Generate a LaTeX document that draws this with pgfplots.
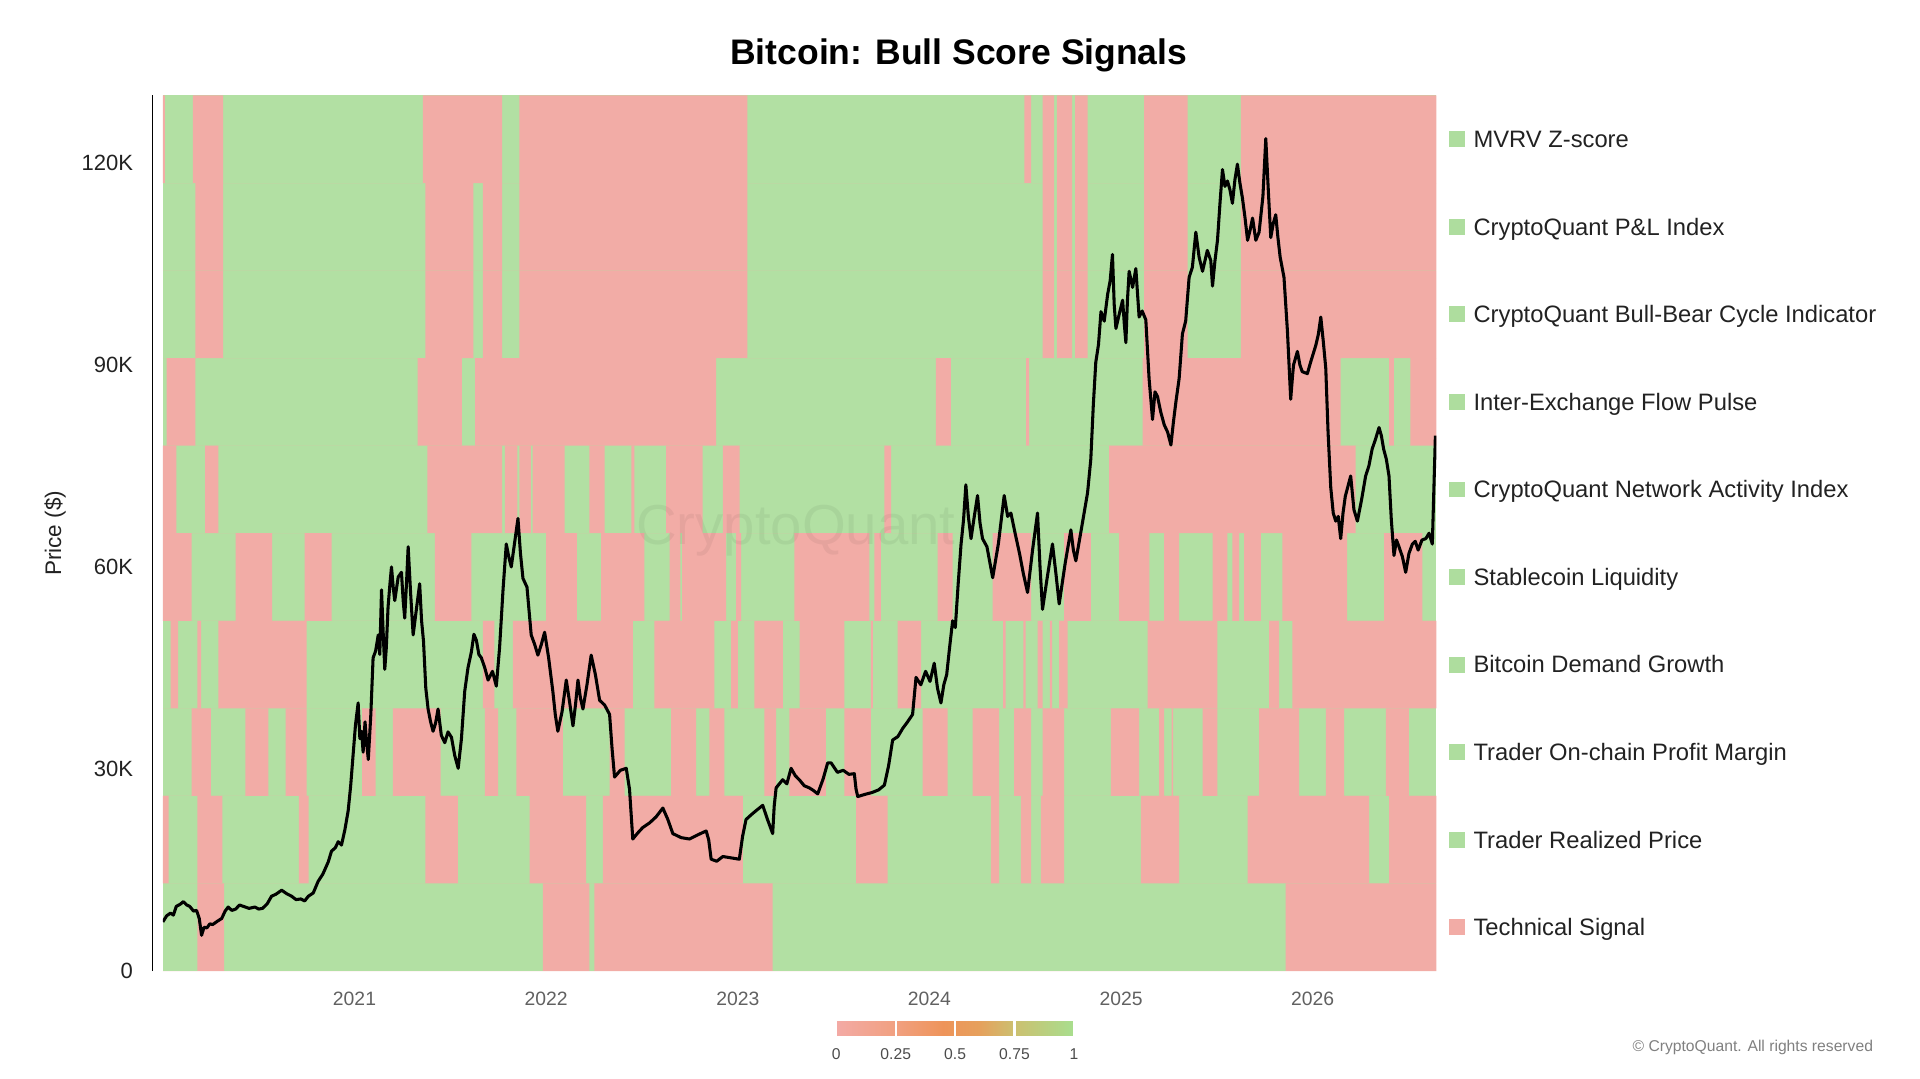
\documentclass[border=0pt]{standalone}
\usepackage{pgfplots}
\pgfplotsset{compat=1.18}
\usepackage{fontspec}
\setmainfont{Liberation Sans}
\definecolor{bred}{RGB}{242,172,166}
\definecolor{bgreen}{RGB}{178,224,163}
\definecolor{lgreen}{RGB}{174,221,158}
\definecolor{txt}{RGB}{34,34,34}
\begin{document}
\begin{tikzpicture}
\path[use as bounding box] (-66.5pt,-44pt) rectangle (717.5pt,396.5pt);
\begin{axis}[
  name=main, at={(0pt,0pt)}, anchor=south west,
  scale only axis, width=520pt, height=357.5pt,
  xmin=2020, xmax=2026.645, ymin=0, ymax=130,
  axis background/.style={fill=bgreen},
  axis line style={draw=none},
  major tick length=0pt,
  xtick={2021,2022,2023,2024,2025,2026},
  xticklabels={2021,2022,2023,2024,2025,2026},
  ytick={0,30,60,90,120},
  yticklabels={0,30K,60K,90K,120K},
  xticklabel style={font=\fontsize{7.9}{9}\selectfont, text=black!62, anchor=center, inner sep=0pt, yshift=-11.5pt},
  yticklabel style={font=\fontsize{9}{10}\selectfont, text=txt, anchor=east, inner sep=0pt, xshift=-12pt},
  colormap={bsc}{rgb255(0pt)=(243,170,165); rgb255(25pt)=(241,160,128); rgb255(45pt)=(238,148,90); rgb255(60pt)=(230,160,92); rgb255(75pt)=(204,192,112); rgb255(100pt)=(168,222,142)},
  point meta min=0, point meta max=1,
  colorbar horizontal,
  colorbar style={
    at={(parent axis.south west)}, anchor=north west,
    xshift=275pt, yshift=-12pt,
    scale only axis, width=97pt, height=6pt,
    xtick={0,0.25,0.5,0.75,1},
    xticklabels={0,0.25,0.5,0.75,1},
    xticklabel pos=lower,
    major tick length=0pt,
    axis line style={draw=none},
    xmajorgrids, major grid style={white, line width=0.9pt},
    xticklabel style={font=\fontsize{6.4}{7}\selectfont, text=black!70, anchor=north, inner sep=0pt, yshift=-5pt},
  },
]
% Row 1 MVRV Z-score
\addplot[const plot, fill=bred, draw=none] coordinates {(2020,117) (2020,130) (2020.01,117) (2020.156,130) (2020.315,117) (2021.357,130) (2021.77,117) (2021.86,130) (2023.05,117) (2024.495,130) (2024.53,117) (2024.59,130) (2024.65,117) (2024.665,130) (2024.745,117) (2024.76,130) (2024.825,117) (2025.12,130) (2025.347,117) (2025.625,130) (2026.645,130) (2026.645,117)} -- cycle;
% Row 2 P&L Index
\addplot[const plot, fill=bred, draw=none] coordinates {(2020,104) (2020.17,117) (2020.315,104) (2021.37,117) (2021.62,104) (2021.67,117) (2021.77,104) (2021.86,117) (2023.05,104) (2024.59,117) (2024.65,104) (2024.665,117) (2024.745,104) (2024.76,117) (2024.825,104) (2025.12,117) (2025.347,104) (2025.625,117) (2026.645,117) (2026.645,104)} -- cycle;
% Row 3 Bull-Bear Cycle
\addplot[const plot, fill=bred, draw=none] coordinates {(2020,91) (2020.17,104) (2020.315,91) (2021.37,104) (2021.62,91) (2021.67,104) (2021.77,91) (2021.86,104) (2023.05,91) (2024.59,104) (2024.65,91) (2024.665,104) (2024.745,91) (2024.76,104) (2024.825,91) (2025.12,104) (2025.347,91) (2025.625,104) (2026.645,104) (2026.645,91)} -- cycle;
% Row 4 Inter-Exchange Flow Pulse
\addplot[const plot, fill=bred, draw=none] coordinates {(2020,78) (2020.02,91) (2020.17,78) (2021.33,91) (2021.56,78) (2021.63,91) (2022.887,78) (2024.034,91) (2024.112,78) (2024.505,91) (2024.52,78) (2025.112,91) (2026.146,78) (2026.398,91) (2026.424,78) (2026.51,91) (2026.645,91) (2026.645,78)} -- cycle;
% Row 5 Network Activity
\addplot[const plot, fill=bred, draw=none] coordinates {(2020,65) (2020,78) (2020.07,65) (2020.22,78) (2020.29,65) (2021.38,78) (2021.77,65) (2021.785,78) (2021.85,65) (2021.86,78) (2021.92,65) (2021.93,78) (2022.096,65) (2022.226,78) (2022.305,65) (2022.445,78) (2022.46,65) (2022.626,78) (2022.817,65) (2022.922,78) (2023.009,65) (2023.765,78) (2023.8,65) (2024.938,78) (2026.224,65) (2026.645,65)} -- cycle;
% Row 6 Stablecoin Liquidity
\addplot[const plot, fill=bred, draw=none] coordinates {(2020,52) (2020,65) (2020.15,52) (2020.38,65) (2020.57,52) (2020.74,65) (2020.88,52) (2021.42,65) (2021.61,52) (2022.0,65) (2022.16,52) (2022.287,65) (2022.513,52) (2022.644,65) (2022.70,52) (2022.71,65) (2022.939,52) (2022.991,65) (2023.017,52) (2023.295,65) (2023.686,52) (2023.713,65) (2023.747,52) (2024.043,65) (2024.121,52) (2024.33,65) (2024.53,52) (2024.703,65) (2024.842,52) (2024.99,65) (2025.147,52) (2025.225,65) (2025.303,52) (2025.477,65) (2025.555,52) (2025.581,65) (2025.616,52) (2025.642,65) (2025.729,52) (2025.842,65) (2026.18,52) (2026.372,65) (2026.572,52) (2026.645,52)} -- cycle;
% Row 7 Bitcoin Demand Growth
\addplot[const plot, fill=bred, draw=none] coordinates {(2020,39) (2020.04,52) (2020.08,39) (2020.18,52) (2020.2,39) (2020.29,52) (2020.75,39) (2021.67,52) (2021.73,39) (2021.827,52) (2022.452,39) (2022.565,52) (2022.878,39) (2022.965,52) (2023.0,39) (2023.087,52) (2023.235,39) (2023.322,52) (2023.556,39) (2023.695,52) (2023.705,39) (2023.834,52) (2023.956,39) (2024.385,52) (2024.398,39) (2024.49,52) (2024.502,39) (2024.564,52) (2024.59,39) (2024.628,52) (2024.64,39) (2024.677,52) (2024.721,39) (2025.138,52) (2025.503,39) (2025.772,52) (2025.825,39) (2025.894,52) (2026.645,52) (2026.645,39)} -- cycle;
% Row 8 Trader On-chain Profit Margin
\addplot[const plot, fill=bred, draw=none] coordinates {(2020,26) (2020.15,39) (2020.25,26) (2020.43,39) (2020.55,26) (2020.64,39) (2020.75,26) (2021.04,39) (2021.11,26) (2021.2,39) (2021.45,26) (2021.68,39) (2021.75,26) (2021.844,39) (2022.087,26) (2022.331,39) (2022.409,26) (2022.652,39) (2022.783,26) (2022.852,39) (2022.93,26) (2023.139,39) (2023.2,26) (2023.269,39) (2023.46,26) (2023.556,39) (2023.695,26) (2023.965,39) (2024.095,26) (2024.225,39) (2024.364,26) (2024.442,39) (2024.53,26) (2024.59,39) (2024.703,26) (2024.947,39) (2025.094,26) (2025.199,39) (2025.225,26) (2025.264,39) (2025.272,26) (2025.425,39) (2025.503,26) (2025.72,39) (2025.929,26) (2026.068,39) (2026.164,26) (2026.381,39) (2026.502,26) (2026.645,26)} -- cycle;
% Row 9 Trader Realized Price
\addplot[const plot, fill=bred, draw=none] coordinates {(2020,13) (2020,26) (2020.03,13) (2020.18,26) (2020.31,13) (2020.71,26) (2020.76,13) (2021.37,26) (2021.54,13) (2021.914,26) (2022.209,13) (2022.296,26) (2023.026,13) (2023.617,26) (2023.782,13) (2024.321,26) (2024.364,13) (2024.477,26) (2024.53,13) (2024.582,26) (2024.703,13) (2025.103,26) (2025.303,13) (2025.66,26) (2026.294,13) (2026.398,26) (2026.645,26) (2026.645,13)} -- cycle;
% Row 10 Technical Signal
\addplot[const plot, fill=bred, draw=none] coordinates {(2020,0) (2020.18,13) (2020.32,0) (2021.983,13) (2022.226,0) (2022.252,13) (2023.182,0) (2025.859,13) (2026.645,13) (2026.645,0)} -- cycle;
% Bitcoin price (K USD)
\addplot[black, line width=1.25pt, line join=round] coordinates {
(2020.000,7.3) (2020.02,8.2) (2020.04,8.6) (2020.055,8.3) (2020.07,9.6) (2020.09,9.9) (2020.107,10.3) (2020.125,9.8) (2020.14,9.6) (2020.16,8.9) (2020.176,9.0) (2020.19,7.8) (2020.202,5.3) (2020.215,6.5) (2020.23,6.4) (2020.245,7.0) (2020.26,6.9) (2020.285,7.4) (2020.307,7.8) (2020.325,8.9) (2020.341,9.5) (2020.36,9.0) (2020.38,9.2) (2020.40,9.8) (2020.42,9.6) (2020.45,9.3) (2020.48,9.5) (2020.50,9.2) (2020.52,9.3) (2020.545,10.0) (2020.567,11.1) (2020.59,11.4) (2020.62,12.0) (2020.645,11.5) (2020.672,11.1) (2020.695,10.6) (2020.72,10.7) (2020.74,10.4) (2020.759,11.1) (2020.785,11.6) (2020.81,13.3) (2020.835,14.4) (2020.863,16.2) (2020.88,17.8) (2020.90,18.3) (2020.915,19.2) (2020.932,18.7) (2020.95,21.0) (2020.967,23.8) (2020.98,27.5) (2020.993,32.2)
(2021.005,36.5) (2021.019,39.8) (2021.028,34.5) (2021.037,35.6) (2021.045,32.5) (2021.055,37.0) (2021.063,34.0) (2021.072,31.4) (2021.085,38.0) (2021.097,46.5) (2021.11,47.5) (2021.124,49.9) (2021.132,47.0) (2021.141,56.6) (2021.15,50.0) (2021.158,44.8) (2021.166,48.0) (2021.175,54.0) (2021.185,57.5) (2021.193,60.0) (2021.202,57.0) (2021.21,55.0) (2021.228,58.5) (2021.245,59.2) (2021.254,55.0) (2021.262,52.4) (2021.272,58.0) (2021.28,63.0) (2021.293,56.0) (2021.306,49.9) (2021.322,53.5) (2021.34,57.5) (2021.35,52.0) (2021.36,49.0) (2021.372,42.0) (2021.384,38.9) (2021.397,37.0) (2021.41,35.6) (2021.423,36.8) (2021.436,38.9) (2021.453,35.0) (2021.471,33.9) (2021.488,35.5) (2021.506,34.7) (2021.523,32.0) (2021.541,30.1) (2021.558,34.5) (2021.575,41.5) (2021.592,45.0) (2021.61,47.4) (2021.623,50.0) (2021.636,49.1) (2021.649,47.0) (2021.662,46.5) (2021.68,45.0) (2021.697,43.2) (2021.72,44.5) (2021.74,42.3) (2021.757,48.0) (2021.775,56.6) (2021.792,63.4) (2021.805,61.5) (2021.818,60.0) (2021.835,63.5) (2021.853,67.2) (2021.866,62.0) (2021.879,58.3) (2021.9,57.0) (2021.922,49.9) (2021.94,48.5) (2021.957,46.9) (2021.975,48.5) (2021.992,50.3)
(2022.013,46.5) (2022.035,41.5) (2022.048,38.0) (2022.061,35.6) (2022.083,38.5) (2022.105,43.2) (2022.122,40.0) (2022.14,36.4) (2022.153,39.5) (2022.166,43.2) (2022.179,40.5) (2022.192,38.9) (2022.213,42.5) (2022.235,46.9) (2022.257,44.0) (2022.279,40.2) (2022.305,39.5) (2022.331,38.1) (2022.344,33.0) (2022.357,28.8) (2022.387,29.8) (2022.418,30.1) (2022.435,27.0) (2022.452,19.6) (2022.478,20.5) (2022.504,21.3) (2022.54,22.0) (2022.574,22.9) (2022.609,24.2) (2022.635,22.5) (2022.661,20.4) (2022.705,19.8) (2022.748,19.6) (2022.79,20.2) (2022.835,20.8) (2022.848,19.5) (2022.861,16.6) (2022.89,16.3) (2022.922,17.0) (2022.965,16.8)
(2023.008,16.6) (2023.025,20.0) (2023.043,22.5) (2023.07,23.2) (2023.095,23.8) (2023.13,24.6) (2023.155,22.5) (2023.182,20.4) (2023.19,24.5) (2023.2,27.2) (2023.234,28.4) (2023.256,27.8) (2023.278,30.1) (2023.3,29.0) (2023.321,28.4) (2023.347,27.5) (2023.373,27.2) (2023.395,26.8) (2023.417,26.3) (2023.445,28.5) (2023.469,30.9) (2023.487,30.9) (2023.52,29.5) (2023.55,29.8) (2023.58,29.2) (2023.608,29.3) (2023.617,27.0) (2023.626,25.9) (2023.66,26.2) (2023.70,26.5) (2023.735,26.9) (2023.765,27.6) (2023.787,30.5) (2023.808,34.3) (2023.835,34.8) (2023.86,36.0) (2023.886,37.0) (2023.912,38.1) (2023.93,43.6) (2023.955,42.5) (2023.98,44.5)
(2024.003,43.0) (2024.025,45.7) (2024.042,42.0) (2024.06,39.8) (2024.075,42.5) (2024.09,44.0) (2024.105,48.0) (2024.121,52.0) (2024.135,51.0) (2024.15,57.5) (2024.165,63.4) (2024.178,67.0) (2024.19,72.2) (2024.203,67.5) (2024.217,64.2) (2024.234,67.5) (2024.251,70.6) (2024.264,66.5) (2024.277,64.2) (2024.3,63.0) (2024.33,58.4) (2024.36,63.5) (2024.39,70.6) (2024.408,67.5) (2024.425,68.0) (2024.447,65.0) (2024.47,62.0) (2024.49,59.0) (2024.512,56.2) (2024.538,62.5) (2024.564,68.0) (2024.577,60.0) (2024.59,53.7) (2024.615,58.5) (2024.642,63.4) (2024.66,59.0) (2024.677,54.5) (2024.708,60.5) (2024.738,65.5) (2024.751,62.5) (2024.764,60.9) (2024.795,66.0) (2024.825,71.0) (2024.842,76.0) (2024.855,84.0) (2024.868,90.4) (2024.882,93.0) (2024.895,97.9) (2024.912,96.5) (2024.93,100.5) (2024.943,102.5) (2024.955,106.4) (2024.964,99.0) (2024.973,95.4) (2024.99,97.5)
(2025.008,99.6) (2025.017,96.0) (2025.025,93.3) (2025.033,99.5) (2025.042,103.9) (2025.06,101.5) (2025.077,104.3) (2025.086,100.5) (2025.094,97.1) (2025.11,98.0) (2025.129,96.7) (2025.146,88.0) (2025.164,81.9) (2025.177,86.0) (2025.19,85.3) (2025.207,83.0) (2025.225,81.1) (2025.243,80.0) (2025.26,78.1) (2025.273,81.5) (2025.286,84.5) (2025.303,88.0) (2025.32,94.6) (2025.337,96.5) (2025.355,103.0) (2025.372,104.5) (2025.39,109.7) (2025.407,106.0) (2025.425,103.9) (2025.45,107.0) (2025.468,105.5) (2025.477,101.7) (2025.49,105.5) (2025.503,108.5) (2025.516,114.0) (2025.529,119.0) (2025.542,116.5) (2025.555,117.3) (2025.568,116.0) (2025.581,114.0) (2025.594,117.5) (2025.607,119.8) (2025.62,117.0) (2025.633,114.8) (2025.646,112.0) (2025.66,108.5) (2025.673,110.0) (2025.686,111.8) (2025.703,108.5) (2025.72,109.7) (2025.74,115.0) (2025.755,123.6) (2025.768,116.0) (2025.781,108.9) (2025.794,111.0) (2025.807,112.3) (2025.818,109.0) (2025.83,106.0) (2025.85,103.0) (2025.868,95.0) (2025.885,84.9) (2025.895,88.5) (2025.90,90.0) (2025.92,92.0) (2025.933,90.0) (2025.945,89.0) (2025.972,88.7) (2025.99,90.5)
(2026.016,92.9) (2026.029,94.5) (2026.042,97.1) (2026.055,93.5) (2026.068,89.5) (2026.08,80.0) (2026.094,71.8) (2026.107,68.0) (2026.12,66.8) (2026.133,67.5) (2026.146,64.2) (2026.158,68.0) (2026.17,70.5) (2026.184,72.0) (2026.198,73.5) (2026.215,68.5) (2026.233,66.8) (2026.255,70.0) (2026.276,73.5) (2026.293,75.0) (2026.31,77.5) (2026.328,79.0) (2026.346,80.7) (2026.358,79.5) (2026.37,77.5) (2026.384,76.0) (2026.398,73.5) (2026.41,67.0) (2026.424,61.7) (2026.437,64.0) (2026.45,63.0) (2026.468,61.5) (2026.485,59.2) (2026.502,62.0) (2026.52,63.4) (2026.535,63.8) (2026.55,62.5) (2026.57,64.0) (2026.59,64.2) (2026.607,65.0) (2026.624,63.4) (2026.64,79.5)
};
\end{axis}
% y axis line
\draw[black, line width=0.75pt] (-4.25pt,0pt) -- (-4.25pt,357.5pt);
% title
\node[font=\fontsize{14.5}{17}\selectfont\bfseries, text=black] at (325pt,374pt) {Bitcoin: Bull Score Signals};
% y label
\node[rotate=90, font=\fontsize{9.2}{11}\selectfont, text=txt] at (-44pt,178.75pt) {Price (\$)};
% watermark
\node[font=\fontsize{23}{26}\selectfont, text=black, opacity=0.05] at (258.5pt,180pt) {CryptoQuant};
% legend
\begin{scope}[every node/.style={anchor=base west, inner sep=0pt, font=\fontsize{9.7}{11}\selectfont, text=txt}]
\fill[lgreen] (525pt,336.375pt) rectangle (531.5pt,342.875pt);
\node at (535pt,336.2pt) {MVRV Z-score};
\fill[lgreen] (525pt,300.625pt) rectangle (531.5pt,307.125pt);
\node at (535pt,300.45pt) {CryptoQuant P\&L Index};
\fill[lgreen] (525pt,264.875pt) rectangle (531.5pt,271.375pt);
\node at (535pt,264.7pt) {CryptoQuant Bull-Bear Cycle Indicator};
\fill[lgreen] (525pt,229.125pt) rectangle (531.5pt,235.625pt);
\node at (535pt,228.95pt) {Inter-Exchange Flow Pulse};
\fill[lgreen] (525pt,193.375pt) rectangle (531.5pt,199.875pt);
\node at (535pt,193.2pt) {CryptoQuant Network Activity Index};
\fill[lgreen] (525pt,157.625pt) rectangle (531.5pt,164.125pt);
\node at (535pt,157.45pt) {Stablecoin Liquidity};
\fill[lgreen] (525pt,121.875pt) rectangle (531.5pt,128.375pt);
\node at (535pt,121.7pt) {Bitcoin Demand Growth};
\fill[lgreen] (525pt,86.125pt) rectangle (531.5pt,92.625pt);
\node at (535pt,85.95pt) {Trader On-chain Profit Margin};
\fill[lgreen] (525pt,50.375pt) rectangle (531.5pt,56.875pt);
\node at (535pt,50.2pt) {Trader Realized Price};
\fill[bred] (525pt,14.625pt) rectangle (531.5pt,21.125pt);
\node at (535pt,14.45pt) {Technical Signal};
\end{scope}
% copyright
\node[anchor=base east, inner sep=0pt, font=\fontsize{6.4}{7}\selectfont, text=black!50] at (698.5pt,-32.8pt) {\textcopyright{} CryptoQuant. All rights reserved};
\end{tikzpicture}
\end{document}
